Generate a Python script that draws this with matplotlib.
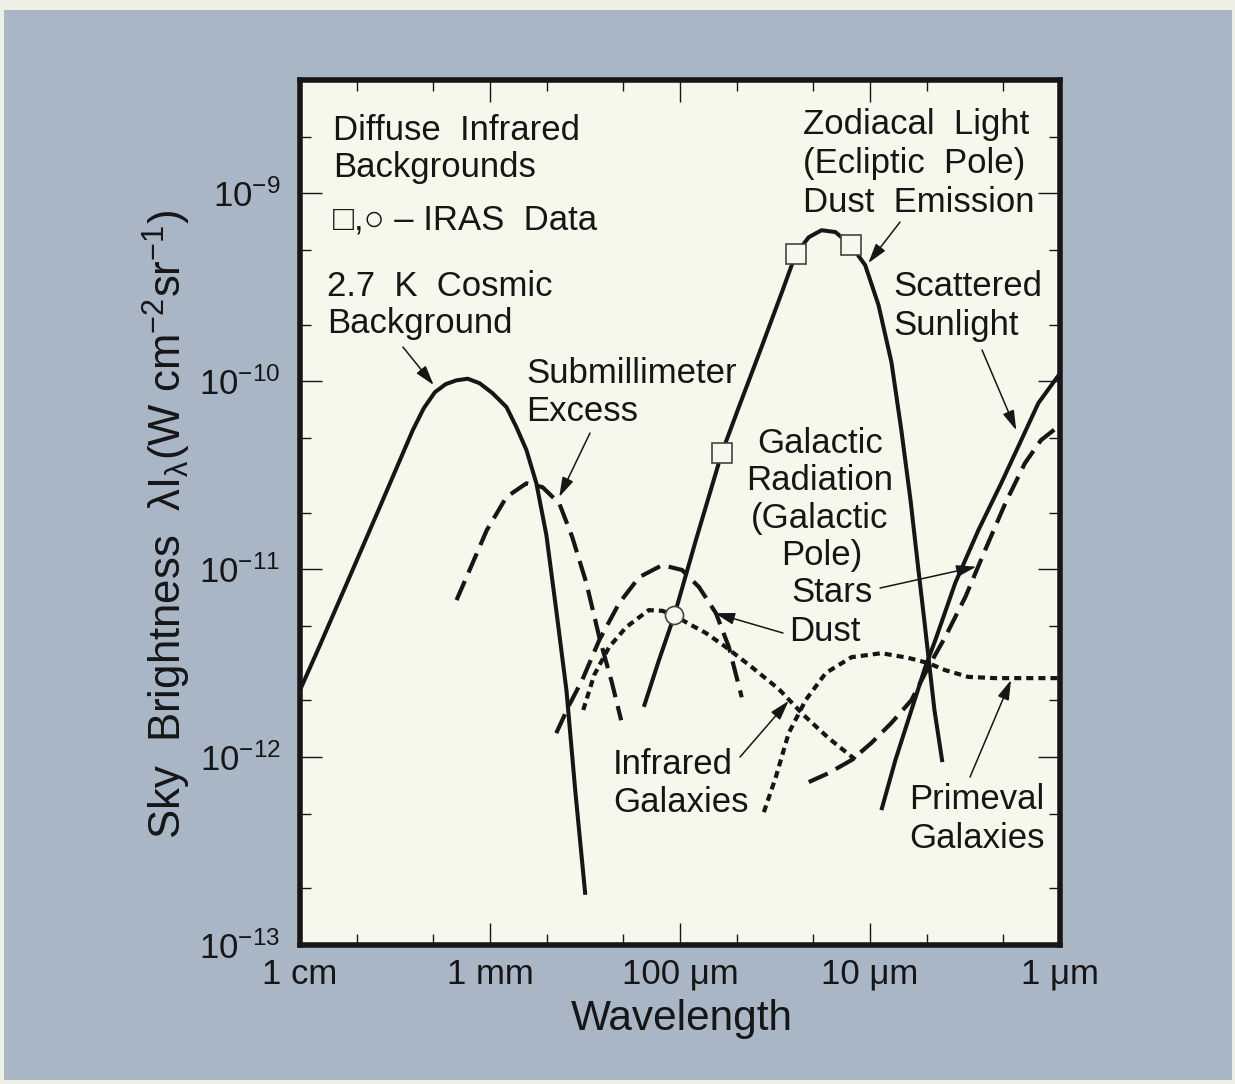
import matplotlib
matplotlib.use("Agg")
import matplotlib.pyplot as plt
from matplotlib.patches import Rectangle
from matplotlib.ticker import FixedLocator, FixedFormatter, LogLocator, NullFormatter

# wavelength in microns, sky brightness lambda*I_lambda in W cm^-2 sr^-1
cmb_wl = [10000, 7850, 5660, 3800, 2550, 2230, 1950, 1710, 1500, 1310, 1135, 970,
          819, 726, 643, 570, 505, 448, 396, 356, 315]
cmb_val = [2.27e-12, 3.94e-12, 8.43e-12, 2.14e-11, 5.48e-11, 7.18e-11, 8.73e-11,
           9.64e-11, 1.01e-10, 1.03e-10, 9.75e-11, 8.63e-11, 7.28e-11, 5.69e-11,
           4.30e-11, 2.86e-11, 1.52e-11, 6.05e-12, 2.27e-12, 6.67e-13, 1.85e-13]

submm_wl = [1500, 1280, 1040, 819, 643, 530, 432, 369, 311, 266, 228, 204]
submm_val = [6.84e-12, 9.89e-12, 1.61e-11, 2.42e-11, 2.86e-11, 2.73e-11, 2.24e-11,
             1.48e-11, 8.43e-12, 4.35e-12, 2.48e-12, 1.57e-12]

dust_wl = [448, 383, 327, 266, 209, 164, 124, 97.5, 79.4, 64.7, 55.3, 47.3]
dust_val = [1.34e-12, 1.89e-12, 2.57e-12, 4.19e-12, 6.59e-12, 9.06e-12, 1.05e-11,
            9.89e-12, 8.02e-12, 5.83e-12, 3.85e-12, 2.08e-12]

irgal_wl = [323, 283, 236, 192, 146, 124, 107, 93.1, 73.1, 57.4, 41.9, 30.2, 22.3,
            16.5, 11.5]
irgal_val = [1.78e-12, 2.73e-12, 3.85e-12, 4.91e-12, 6.05e-12, 6.0e-12, 5.69e-12,
             5.22e-12, 4.57e-12, 3.85e-12, 3.01e-12, 2.30e-12, 1.67e-12, 1.26e-12,
             9.40e-13]

primeval_wl = [36.2, 31.3, 26.8, 21.8, 17.1, 12.5, 8.71, 6.28, 4.93, 4.02, 3.04,
               2.19, 1.0]
primeval_val = [5.09e-13, 7.83e-13, 1.34e-12, 2.01e-12, 2.80e-12, 3.40e-12,
                3.57e-12, 3.37e-12, 3.16e-12, 2.90e-12, 2.67e-12, 2.63e-12, 2.63e-12]

stars_wl = [21.0, 16.5, 12.5, 9.82, 7.71, 6.05, 4.93, 4.02, 3.15, 2.48, 1.94, 1.53,
            1.26, 1.0]
stars_val = [7.36e-13, 8.22e-13, 9.64e-13, 1.19e-12, 1.52e-12, 2.01e-12, 3.01e-12,
             4.35e-12, 7.10e-12, 1.26e-11, 2.24e-11, 3.66e-11, 4.85e-11, 5.83e-11]

sun_wl = [8.71, 7.35, 6.05, 5.12, 4.53, 3.56, 2.69, 2.04, 1.60, 1.30, 1.0]
sun_val = [5.22e-13, 9.64e-13, 1.78e-12, 3.01e-12, 4.19e-12, 8.43e-12, 1.61e-11,
           2.86e-11, 4.85e-11, 7.64e-11, 1.10e-10]

zodi_wl = [155, 129, 107, 82.4, 60.3, 49.0, 37.2, 29.2, 24.6, 21.0, 18.0, 15.2,
           12.6, 10.6, 9.02, 7.71, 6.84, 6.12, 5.56, 5.18, 4.87, 4.58, 4.16]
zodi_val = [1.85e-12, 3.28e-12, 5.69e-12, 1.43e-11, 4.14e-11, 7.28e-11, 1.52e-10,
            2.94e-10, 4.74e-10, 5.83e-10, 6.35e-10, 6.21e-10, 5.28e-10, 4.14e-10,
            2.54e-10, 1.26e-10, 5.48e-11, 2.33e-11, 9.89e-12, 5.36e-12, 3.08e-12,
            1.78e-12, 9.40e-13]

# IRAS points
iras_sq_wl = [60.3, 24.6, 12.6]
iras_sq_val = [4.14e-11, 4.74e-10, 5.28e-10]
iras_circ_wl = [107]
iras_circ_val = [5.69e-12]

x_ticks = [1e4, 1e3, 1e2, 1e1, 1e0]
x_tick_labels = ["1 cm", "1 mm", "100 μm", "10 μm", "1 μm"]
y_ticks = [1e-13, 1e-12, 1e-11, 1e-10, 1e-9]
y_tick_labels = ["$10^{-13}$", "$10^{-12}$", "$10^{-11}$", "$10^{-10}$", "$10^{-9}$"]

plt.rcParams["font.family"] = ["Liberation Sans", "DejaVu Sans"]
plt.rcParams["mathtext.fontset"] = "custom"
plt.rcParams["mathtext.rm"] = "Liberation Sans"
plt.rcParams["mathtext.it"] = "Liberation Sans:italic"
plt.rcParams["mathtext.bf"] = "Liberation Sans:bold"

ink = "#161616"
paper = "#f6f8ec"

fig = plt.figure(figsize=(12.35, 10.84), dpi=100, facecolor="#eef0e5")
fig.patches.append(Rectangle((0.0032, 0.0037), 0.9943, 0.9871, transform=fig.transFigure,
                             facecolor="#a8b6c6", edgecolor="none", zorder=-5))

ax = fig.add_axes([0.2429, 0.1282, 0.6154, 0.7980])
ax.set_zorder(2)
ax.set_facecolor(paper)
ax.set_xscale("log")
ax.set_yscale("log")
ax.set_xlim(1e4, 1.0)
ax.set_ylim(1e-13, 4e-9)

solid = dict(color=ink, lw=2.9, solid_capstyle="butt", solid_joinstyle="round")
dashed = dict(color=ink, lw=3.0, ls=(0, (5, 2.2)), dash_capstyle="butt")
dotted = dict(color=ink, lw=3.0, ls=(0, (1.7, 1.2)), dash_capstyle="butt")

ax.plot(cmb_wl, cmb_val, **solid)
ax.plot(submm_wl, submm_val, **dashed)
ax.plot(dust_wl, dust_val, **dashed)
ax.plot(irgal_wl, irgal_val, **dotted)
ax.plot(primeval_wl, primeval_val, **dotted)
ax.plot(stars_wl, stars_val, **dashed)
ax.plot(sun_wl, sun_val, **solid)
ax.plot(zodi_wl, zodi_val, **solid)

ax.plot(iras_sq_wl, iras_sq_val, "s", ms=14, mfc=paper, mec="#444", mew=1.2, zorder=5)
ax.plot(iras_circ_wl, iras_circ_val, "o", ms=13, mfc=paper, mec="#444", mew=1.2, zorder=5)

# axes frame and ticks
for side in ax.spines.values():
    side.set_linewidth(4)
    side.set_color(ink)

ax.xaxis.set_major_locator(FixedLocator(x_ticks))
ax.xaxis.set_major_formatter(FixedFormatter(x_tick_labels))
ax.xaxis.set_minor_locator(LogLocator(base=10, subs=(2, 5), numticks=20))
ax.xaxis.set_minor_formatter(NullFormatter())
ax.yaxis.set_major_locator(FixedLocator(y_ticks))
ax.yaxis.set_major_formatter(FixedFormatter(y_tick_labels))
ax.yaxis.set_minor_locator(LogLocator(base=10, subs=(2, 5), numticks=20))
ax.yaxis.set_minor_formatter(NullFormatter())

ax.tick_params(which="both", direction="in", top=True, right=True, color=ink,
               width=1.0, labelsize=25, labelcolor=ink)
ax.tick_params(which="major", length=16)
ax.tick_params(which="minor", length=8)
ax.tick_params(axis="x", pad=9)
ax.tick_params(axis="y", pad=14)

fig.text(682 / 1235, 1 - 1019 / 1084, "Wavelength", ha="center", va="center",
         fontsize=30.5, color=ink)
fig.text(167 / 1235, 1 - 525 / 1084,
         r"Sky  Brightness  λI$_\mathrm{λ}$(W cm$^{-2}$sr$^{-1}$)",
         rotation=90, ha="center", va="center", fontsize=31.5, color=ink)

# curve labels, (text, x, y, alignment) in axes fraction, y at baseline
labels = [
    ("Diffuse  Infrared", 0.0434, 0.9306, "left"),
    ("Backgrounds", 0.0434, 0.8879, "left"),
    ("□,○ – IRAS  Data", 0.0434, 0.8266, "left"),
    ("2.7  K  Cosmic", 0.0355, 0.7503, "left"),
    ("Background", 0.0355, 0.7075, "left"),
    ("Submillimeter", 0.2974, 0.6497, "left"),
    ("Excess", 0.2974, 0.6058, "left"),
    ("Zodiacal  Light", 0.6618, 0.9376, "left"),
    ("(Ecliptic  Pole)", 0.6618, 0.8925, "left"),
    ("Dust  Emission", 0.6618, 0.8474, "left"),
    ("Scattered", 0.7803, 0.7503, "left"),
    ("Sunlight", 0.7803, 0.7052, "left"),
    ("Galactic", 0.6842, 0.5688, "center"),
    ("Radiation", 0.6842, 0.5260, "center"),
    ("(Galactic", 0.6842, 0.4821, "center"),
    ("Pole)", 0.6868, 0.4393, "center"),
    ("Stars", 0.6461, 0.3965, "left"),
    ("Dust", 0.6434, 0.3514, "left"),
    ("Infrared", 0.4118, 0.1977, "left"),
    ("Galaxies", 0.4118, 0.1538, "left"),
    ("Primeval", 0.8013, 0.1572, "left"),
    ("Galaxies", 0.8013, 0.1121, "left"),
]
for txt, lx, ly, ha in labels:
    ax.text(lx, ly, txt, transform=ax.transAxes, ha=ha, va="baseline",
            fontsize=25, color=ink)

# pointer arrows: tip on the curve (data), tail near the label (axes fraction)
arrows = [
    ((1980, 9.53e-11), (0.1355, 0.6913)),
    ((432, 2.42e-11), (0.3816, 0.5919)),
    ((10.2, 4.25e-10), (0.7895, 0.8358)),
    ((1.70, 5.48e-11), (0.8974, 0.6879)),
    ((2.76, 1.03e-11), (0.7632, 0.4127)),
    ((65.5, 5.83e-12), (0.6355, 0.3607)),
    ((26.8, 1.99e-12), (0.5789, 0.2173)),
    ((1.81, 2.57e-12), (0.8816, 0.1942)),
]
for tip, tail in arrows:
    ax.annotate("", xy=tip, xycoords="data", xytext=tail, textcoords="axes fraction",
                arrowprops=dict(arrowstyle="-|>,head_length=0.6,head_width=0.18",
                                color=ink, lw=1.1, shrinkA=0, shrinkB=0,
                                mutation_scale=20))

fig.savefig("out.png", dpi=100, facecolor=fig.get_facecolor())
